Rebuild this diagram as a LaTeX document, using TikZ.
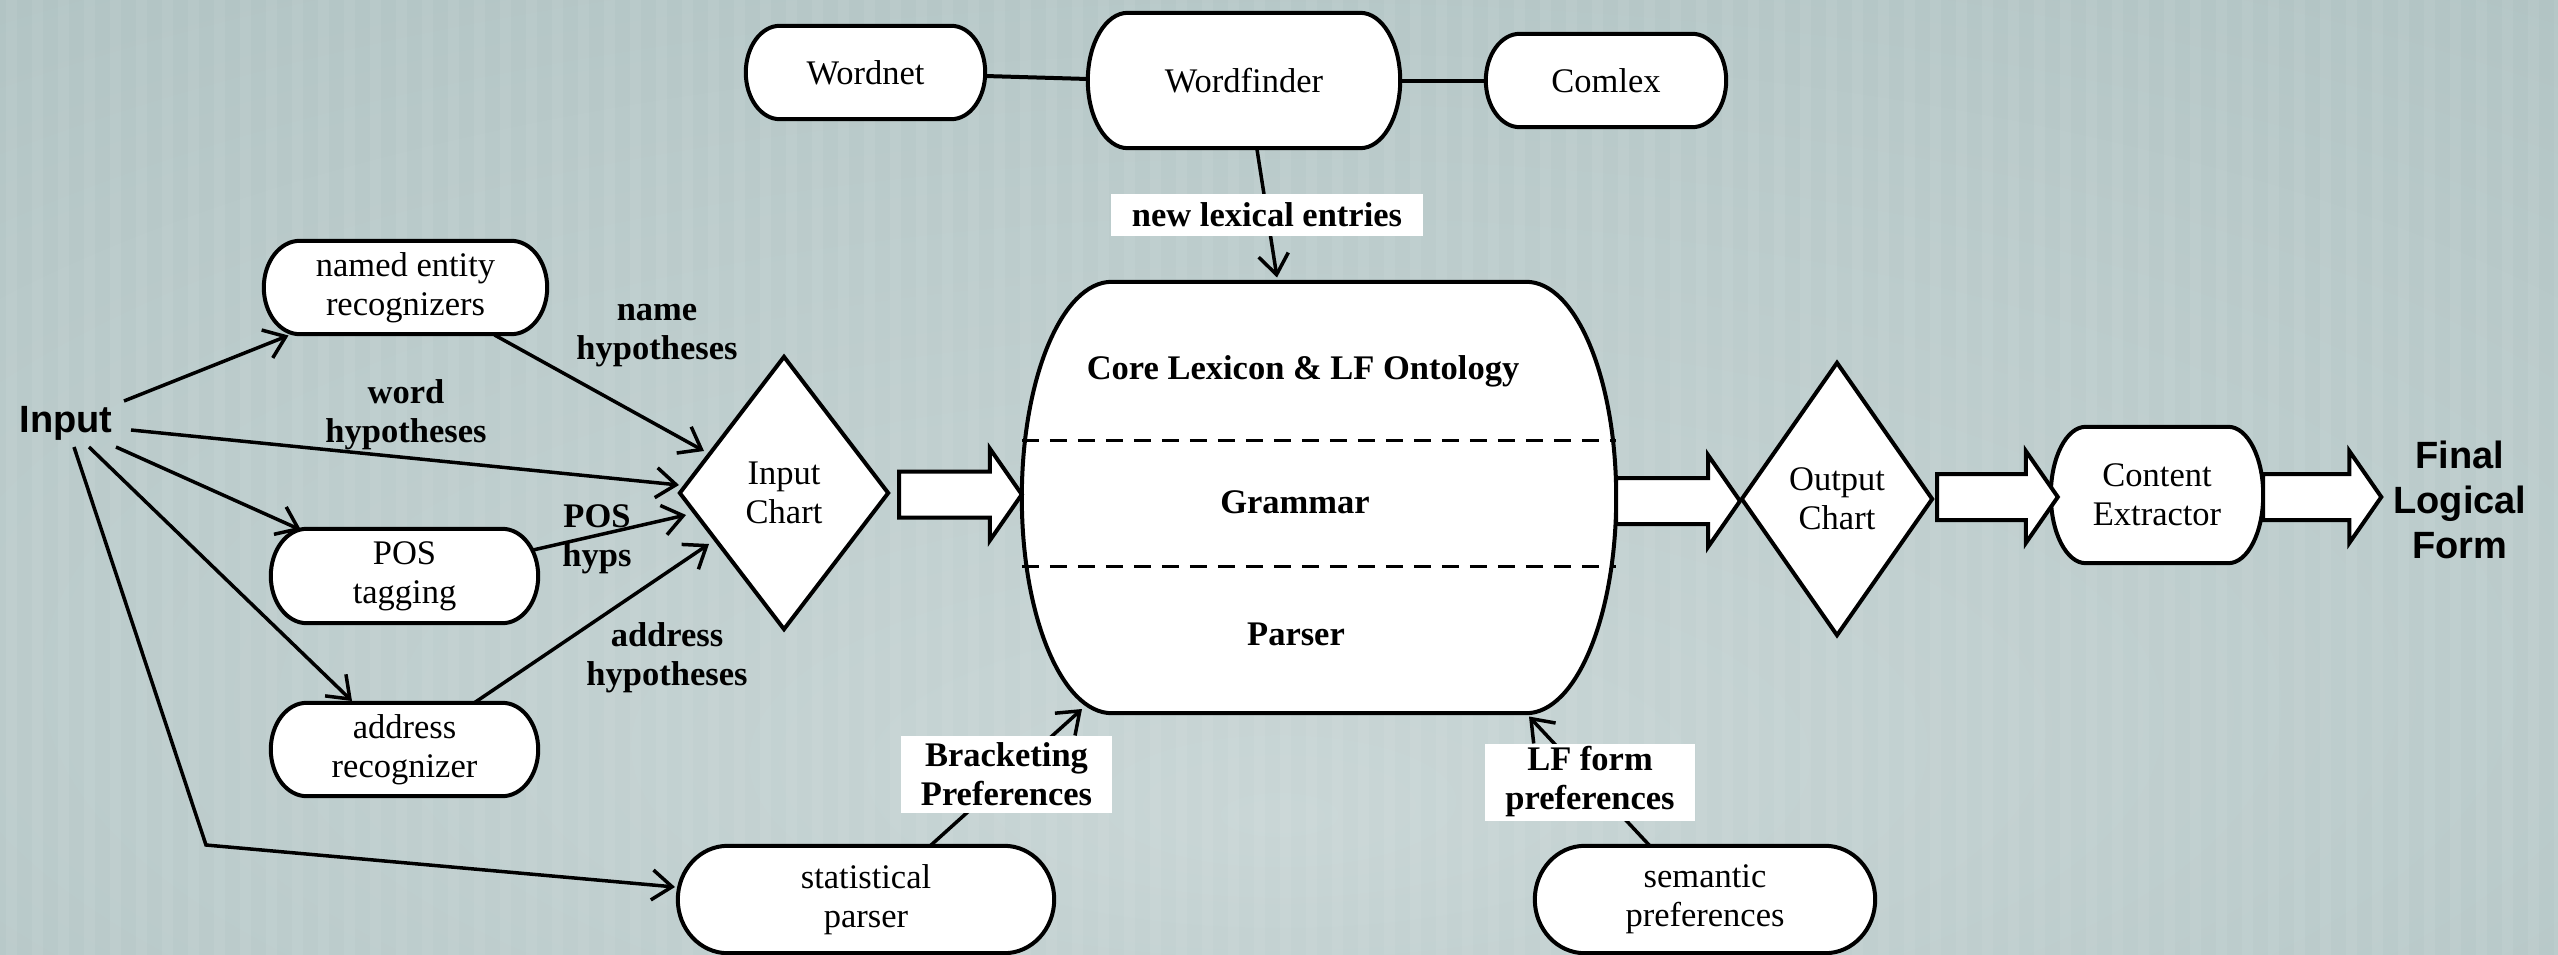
\documentclass[tikz,border=0pt]{standalone}
\usepackage{fontspec}
\setmainfont{Liberation Serif}
\newfontfamily\headfont{Liberation Sans}
\usetikzlibrary{shapes.geometric,arrows.meta,calc}

\definecolor{bgout}{RGB}{166,187,187}
\definecolor{bgin}{RGB}{201,214,214}

\newcommand\txtfont{\fontsize{34.5}{39}\selectfont}
\newcommand\lblfont{\fontsize{34.5}{39}\selectfont\bfseries}
\newcommand\headtxt{\headfont\bfseries\fontsize{38}{45}\selectfont}

\pgfdeclarelayer{bg}
\pgfdeclarelayer{back}
\pgfsetlayers{bg,back,main}

\pgfdeclareradialshading{backglow}{\pgfpoint{0bp}{-18bp}}{%
  color(0bp)=(bgin); color(28bp)=(bgin!55!bgout); color(58bp)=(bgout)}

% outline of a box with elliptical ends, drawn round a named node
\newcommand\termshape[2]{%
  \begin{pgfonlayer}{back}
  \path[boxline] let \p1=(#1.north west), \p2=(#1.south east) in
    (\x1+#2pt,\y1) -- (\x2-#2pt,\y1)
    arc[start angle=90, end angle=-90, x radius=#2pt, y radius={(\y1-\y2)/2}]
    -- (\x1+#2pt,\y2)
    arc[start angle=270, end angle=90, x radius=#2pt, y radius={(\y1-\y2)/2}]
    -- cycle;
  \end{pgfonlayer}}

% wide hollow arrow from a start point to a tip point
\newcommand\blockarrow[2]{%
  \draw[blockarr] let \p1=#1, \p2=#2 in
    (\x1,\y2+23pt) -- (\x2-32pt,\y2+23pt) -- (\x2-32pt,\y2+46pt) -- (\x2,\y2)
    -- (\x2-32pt,\y2-46pt) -- (\x2-32pt,\y2-23pt) -- (\x1,\y2-23pt) -- cycle;}

\begin{document}
\begin{tikzpicture}[x=1pt,y=-1pt,
  boxline/.style={draw=black, fill=white, line width=4pt},
  capnode/.style={inner sep=0pt, align=center, font=\txtfont},
  chart/.style={diamond, draw=black, fill=white, line width=4pt, inner sep=0pt,
    align=center, font=\txtfont},
  conn/.style={line width=3.5pt, -{Straight Barb[length=20pt,width=30pt]}},
  link/.style={line width=4pt},
  hyp/.style={font=\lblfont, align=center, inner sep=0pt},
  tag/.style={fill=white, font=\lblfont, align=center, inner sep=0pt},
  blockarr/.style={draw=black, fill=white, line width=4pt, line join=miter},
  layerline/.style={line width=3pt, dash pattern=on 17pt off 11pt}]

\useasboundingbox (0,0) rectangle (2558,955);

% backdrop
\begin{pgfonlayer}{bg}
  \shade[shading=backglow] (0,0) rectangle (2558,955);
  \foreach \i in {0,...,98} {
    \fill[white, opacity=0.06] (\i*26+6,0) rectangle ++(11,955);
  }
\end{pgfonlayer}

% lexical resources
\node[capnode, minimum width=239pt, minimum height=93pt] (wn) at (865.5,72.5) {Wordnet};
\node[capnode, minimum width=312pt, minimum height=135pt] (wf) at (1244,80.5) {Wordfinder};
\node[capnode, minimum width=240pt, minimum height=93pt] (cx) at (1606,80.5) {Comlex};

% preprocessors
\node[capnode, minimum width=283pt, minimum height=93pt] (ner) at (405.5,287.5) {named entity\\recognizers};
\node[capnode, minimum width=267pt, minimum height=94pt] (pos) at (404.5,576) {POS\\tagging};
\node[capnode, minimum width=267pt, minimum height=93pt] (adr) at (404.5,749.5) {address\\recognizer};
\node[capnode, minimum width=376pt, minimum height=107pt] (stp) at (866,899.5) {statistical\\parser};
\node[capnode, minimum width=340pt, minimum height=107pt] (sem) at (1705,899.5) {semantic\\preferences};
\node[capnode, minimum width=212pt, minimum height=136pt] (ce) at (2157,495) {Content\\Extractor};

% core system
\node[capnode, minimum width=594pt, minimum height=431pt] (core) at (1319,497.5) {};

\termshape{wn}{34}
\termshape{wf}{40}
\termshape{cx}{34}
\termshape{ner}{36}
\termshape{pos}{36}
\termshape{adr}{36}
\termshape{stp}{50}
\termshape{sem}{50}
\termshape{ce}{35}
\termshape{core}{90}

\draw[layerline] ([shift={(0,-57.5)}]core.west) -- ([shift={(0,-57.5)}]core.east);
\draw[layerline] ([shift={(0,68.5)}]core.west) -- ([shift={(0,68.5)}]core.east);

\node[font=\lblfont] (lex) at (1303,371) {Core Lexicon \& LF Ontology};
\node[font=\lblfont] (gram) at (1295,502) {Grammar};
\node[font=\lblfont] (pars) at (1296,634) {Parser};

% charts
\node[chart, minimum width=210pt, minimum height=274pt] (ic) at (784,493) {Input\\Chart};
\node[chart, minimum width=192pt, minimum height=274pt] (oc) at (1837,499) {Output\\Chart};

% end points
\node[font=\headtxt, inner sep=0pt] (in) at (66,423) {Input};
\node[font=\headtxt, align=center, inner sep=0pt] (flf) at (2460,500) {Final\\Logical\\Form};

% main pipeline
\blockarrow{([shift={(8,0)}]ic.east)}{([shift={(0,-3)}]core.west)}
\blockarrow{(core.east)}{([shift={(1,2)}]oc.west)}
\blockarrow{([shift={(2,0)}]oc.east)}{([shift={(7,2)}]ce.west)}
\blockarrow{(ce.east)}{([shift={(-12,-3)}]flf.west)}

% lexicon links
\draw[link] ([shift={(119.5,3.5)}]wn.center) -- ([shift={(-156,-1.5)}]wf.center);
\draw[link] ([shift={(156,0.5)}]wf.center) -- ([shift={(-120,0.5)}]cx.center);
\draw[conn] ([shift={(13,69)}]wf.center) -- ([shift={(-42,-220)}]core.center);

% input fan-out
\draw[conn] ([shift={(58,-22)}]in.center) -- ([shift={(-117,48)}]ner.center);
\draw[conn] ([shift={(89,47.5)}]ner.center) -- ([shift={(-80,-42)}]ic.center);
\draw[conn] ([shift={(65,7)}]in.center) -- ([shift={(-105,-8)}]ic.center);
\draw[conn] ([shift={(50,24)}]in.center) -- ([shift={(-103.5,-46)}]pos.center);
\draw[conn] ([shift={(128.5,-26)}]pos.center) -- ([shift={(-98,22)}]ic.center);
\draw[conn] ([shift={(23,24)}]in.center) -- ([shift={(-52.5,-48.5)}]adr.center);
\draw[conn] ([shift={(69.5,-46.5)}]adr.center) -- ([shift={(-75,51)}]ic.center);
\coordinate (bend) at (206,845);
\draw[conn] ([shift={(8,24)}]in.center) -- (bend) -- ([shift={(-191,-12.5)}]stp.center);

% preference feeds
\draw[conn] ([shift={(64,-53.5)}]stp.center) -- ([shift={(-237,211.5)}]core.center);
\draw[conn] ([shift={(-55,-53.5)}]sem.center) -- ([shift={(210,219)}]core.center);

% edge labels
\node[hyp] (nh) at (657,336) {name\\hypotheses};
\node[hyp] (wh) at (406,415) {word\\hypotheses};
\node[hyp] (ph) at (597,539) {POS\\hyps};
\node[hyp] (ah) at (667,658) {address\\hypotheses};

\node[tag, minimum width=312pt, minimum height=42pt] (nle) at (1267,214.5) {new lexical entries};
\node[tag, minimum width=211pt, minimum height=77pt] (brk) at (1006.5,774) {Bracketing\\Preferences};
\node[tag, minimum width=210pt, minimum height=77pt] (lff) at (1590,782) {LF form\\preferences};

\end{tikzpicture}
\end{document}
